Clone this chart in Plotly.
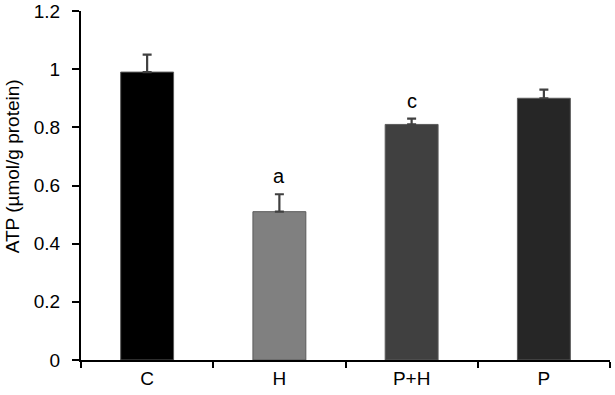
import plotly.graph_objects as go

categories = ["C", "H", "P+H", "P"]
atp_values = [0.99, 0.51, 0.81, 0.90]
atp_errors = [0.06, 0.06, 0.02, 0.03]
bar_colors = ["#000000", "#808080", "#404040", "#262626"]
sig_labels = ["", "a", "c", ""]
y_ticks = [0, 0.2, 0.4, 0.6, 0.8, 1.0, 1.2]
y_ticklabels = ["0", "0.2", "0.4", "0.6", "0.8", "1", "1.2"]

FONT = "Arial, Liberation Sans, sans-serif"

fig = go.Figure()
fig.add_trace(go.Bar(
    x=categories, y=atp_values, width=0.4,
    marker=dict(color=bar_colors, line=dict(color="#5a5a5a", width=1)),
    error_y=dict(type="data", array=atp_errors, arrayminus=[0]*len(atp_errors),
                 symmetric=False, color="#404040", thickness=2.2, width=4.5),
    showlegend=False, hoverinfo="skip",
))

for cat, v, e, lab in zip(categories, atp_values, atp_errors, sig_labels):
    if lab:
        fig.add_annotation(x=cat, y=v + e, text=lab, showarrow=False,
                           yanchor="bottom", yshift=5,
                           font=dict(family=FONT, size=20, color="#000000"))

# y-axis title as a rotated annotation
fig.add_annotation(text="ATP (µmol/g protein)", textangle=-90, showarrow=False,
                   xref="paper", yref="paper", x=0, y=0.555,
                   xanchor="center", yanchor="middle", xshift=-69,
                   font=dict(family=FONT, size=19, color="#000000"))

fig.update_layout(
    width=615, height=395,
    margin=dict(l=81, r=5, t=11, b=35),
    plot_bgcolor="white", paper_bgcolor="white",
    font=dict(family=FONT, color="#000000"),
)
fig.update_xaxes(
    type="category", range=[-0.5, 3.5], automargin=False,
    showline=True, linecolor="#000000", linewidth=2,
    ticks="outside", tickson="boundaries", ticklen=6, tickwidth=2, tickcolor="#000000",
    tickfont=dict(family=FONT, size=19), showgrid=False, zeroline=False,
)
fig.update_yaxes(
    range=[0, 1.2], tickvals=y_ticks, ticktext=y_ticklabels, automargin=False,
    showline=True, linecolor="#000000", linewidth=2,
    ticks="outside", ticklen=7, tickwidth=2, tickcolor="#000000",
    tickfont=dict(family=FONT, size=19), showgrid=False, zeroline=False,
    ticklabelstandoff=8,
)

fig.write_html("out.html",
               config={"displayModeBar": False},
               post_script="document.body.style.margin='0';document.body.style.overflow='hidden';")
